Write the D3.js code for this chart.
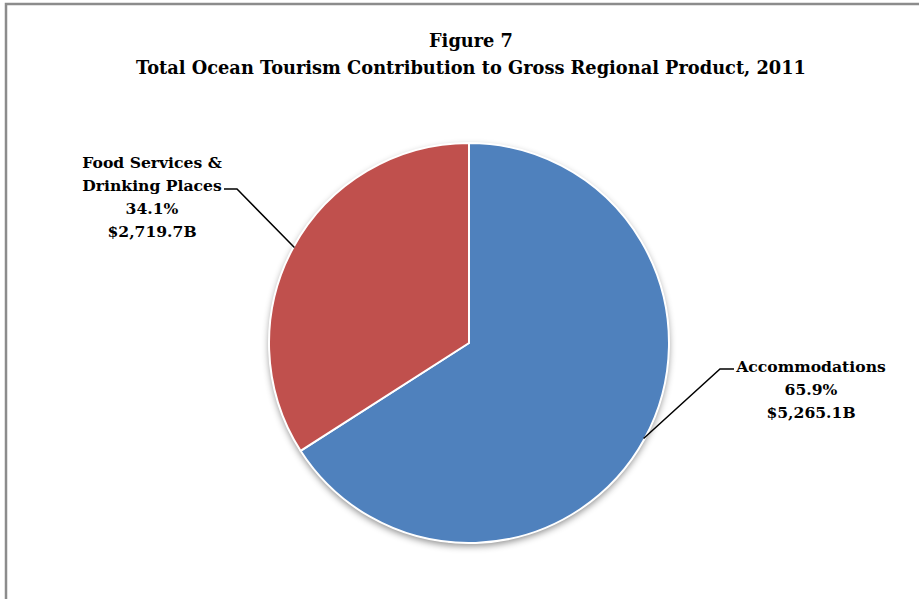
<!DOCTYPE html>
<html>
<head>
<meta charset="utf-8">
<script src="https://cdn.jsdelivr.net/npm/d3@7"></script>
<style>
  html, body { margin: 0; padding: 0; background: #fff; }
  svg { display: block; }
  text { font-family: "DejaVu Serif", "Liberation Serif", serif; font-weight: bold; fill: #000; }
</style>
</head>
<body>
<svg id="chart" width="919" height="599"></svg>
<script>
const categories = ["Accommodations", "Food Services & Drinking Places"];
const labelLines = [["Accommodations"], ["Food Services &", "Drinking Places"]];
const values = [5265.1, 2719.7];
const percents = ["65.9%", "34.1%"];
const amounts = ["$5,265.1B", "$2,719.7B"];
const colors = ["#4F81BD", "#C0504D"];
const titleLines = ["Figure 7", "Total Ocean Tourism Contribution to Gross Regional Product, 2011"];

const svg = d3.select("#chart");
const W = 919, H = 599;

// frame
svg.append("rect").attr("x", 6).attr("y", 4).attr("width", W + 20).attr("height", H + 20)
  .attr("fill", "#fff").attr("stroke", "#8c8c8c").attr("stroke-width", 2.5);

// title
svg.selectAll("text.title").data(titleLines).enter().append("text")
  .attr("class", "title")
  .attr("x", 471).attr("y", (d, i) => 47 + i * 27)
  .attr("text-anchor", "middle")
  .style("font-size", "17.8px")
  .text(d => d);

const cx = 469, cy = 343, r = 200;
const defs = svg.append("defs");
const f = defs.append("filter").attr("id", "shadow").attr("x", "-20%").attr("y", "-20%").attr("width", "140%").attr("height", "140%");
f.append("feDropShadow").attr("dx", 0).attr("dy", 3).attr("stdDeviation", 3.5).attr("flood-color", "#000").attr("flood-opacity", 0.45);

const data = categories.map((c, i) => ({ cat: c, value: values[i], i }));
const pie = d3.pie().sort(null).value(d => d.value);
const arcs = pie(data);
const arc = d3.arc().innerRadius(0).outerRadius(r);

const g = svg.append("g").attr("transform", `translate(${cx},${cy})`);
g.append("circle").attr("r", r).attr("fill", "#fff").attr("filter", "url(#shadow)");
g.selectAll("path.slice").data(arcs).enter().append("path")
  .attr("class", "slice")
  .attr("d", arc)
  .attr("fill", d => colors[d.data.i])
  .attr("stroke", "#fff").attr("stroke-width", 2).attr("stroke-linejoin", "round");

// labels with leader lines
const labelPos = [
  { elbow: [720 - cx, 369 - cy], end: [734 - cx, 369 - cy], tx: 811 - cx, ty: 372 - cy },
  { elbow: [237 - cx, 189 - cy], end: [224 - cx, 189 - cy], tx: 152 - cx, ty: 168 - cy }
];
arcs.forEach(a => {
  const i = a.data.i;
  const mid = (a.startAngle + a.endAngle) / 2;
  const p0 = [Math.sin(mid) * (r - 1), -Math.cos(mid) * (r - 1)];
  const lp = labelPos[i];
  g.append("polyline")
    .attr("points", [p0, lp.elbow, lp.end].map(p => p.join(",")).join(" "))
    .attr("fill", "none").attr("stroke", "#000").attr("stroke-width", 1.5);
  const lines = labelLines[i].concat([percents[i], amounts[i]]);
  g.append("g").selectAll("text").data(lines).enter().append("text")
    .attr("x", lp.tx).attr("y", (d, j) => lp.ty + j * 23)
    .attr("text-anchor", "middle")
    .style("font-size", "15.6px")
    .text(d => d);
});
</script>
</body>
</html>
